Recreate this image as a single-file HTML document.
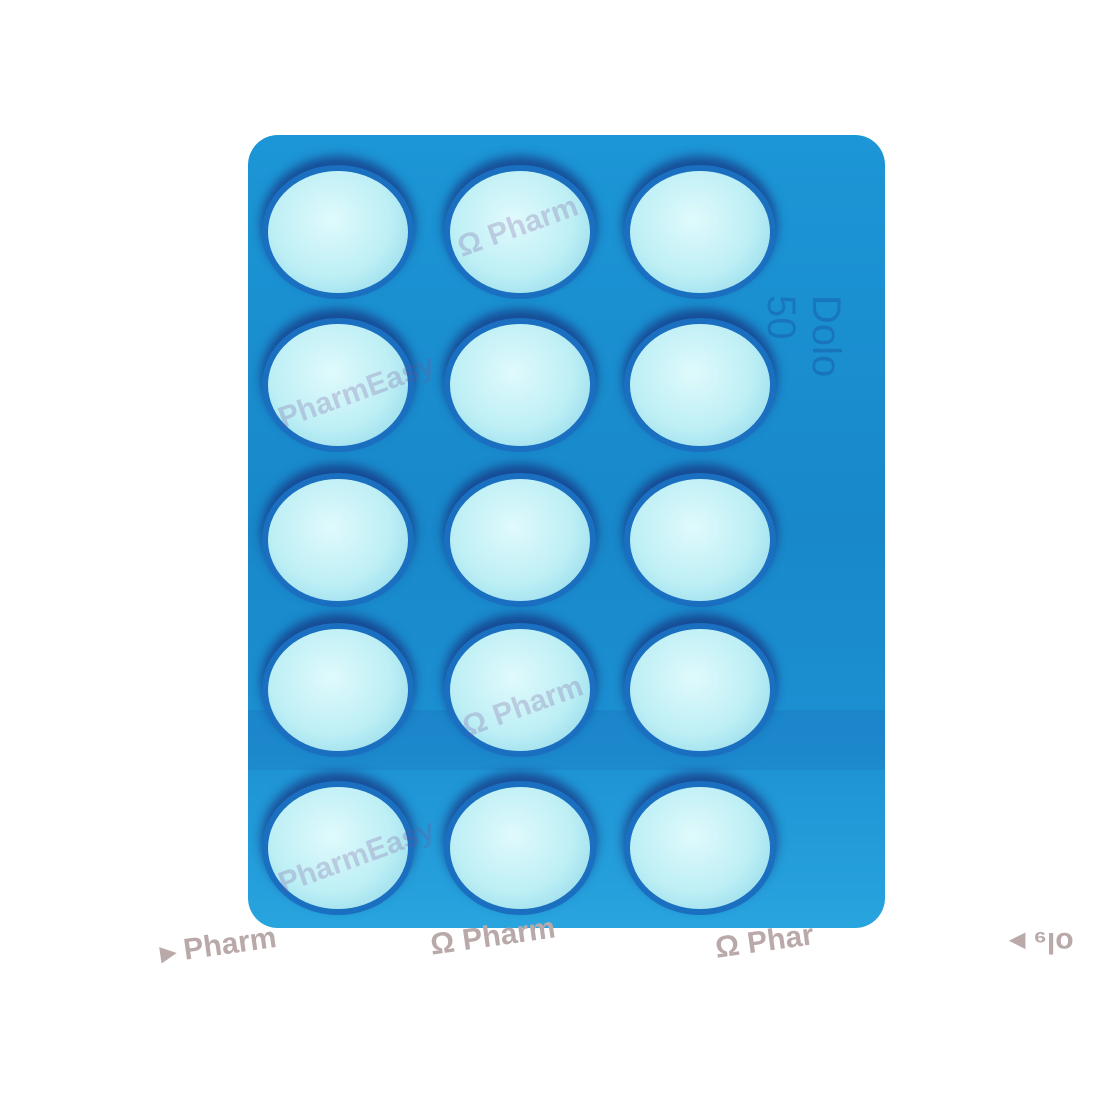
<!DOCTYPE html>
<html><head><meta charset="utf-8"><style>
html,body{margin:0;padding:0;background:#fff;width:1100px;height:1100px;overflow:hidden;font-family:"Liberation Sans",sans-serif;}
#pack{position:absolute;left:248px;top:135px;width:637px;height:793px;border-radius:30px;
background:linear-gradient(180deg,#1c96d6 0%,#1888ca 50%,#1c90d2 75%,#28a4de 100%);overflow:hidden;}
#pack:before{content:"";position:absolute;left:0;top:575px;width:100%;height:60px;background:rgba(30,80,170,0.15);}
.pill{position:absolute;width:140px;height:122px;border-radius:50%;
background:radial-gradient(ellipse at 45% 40%,#e0fafc 0%,#bdeff5 55%,#98dcec 85%,#62bfe3 100%);
box-shadow:0 0 0 6px #1a6fc0,0 -8px 10px 7px rgba(20,30,110,0.6);}
.wm{position:absolute;color:rgba(120,80,150,0.25);font-weight:bold;font-size:30px;white-space:nowrap;}
.bt{position:absolute;color:#b9a9a9;font-weight:bold;font-size:30px;white-space:nowrap;}
.side{position:absolute;color:rgba(20,60,140,0.3);font-size:40px;transform:rotate(90deg);transform-origin:left top;}
</style></head><body>
<div id="pack">
<div class="side" style="left:600px;top:160px">Dolo 50</div>
</div>
<div id="pills"></div>
<div class="wm" style="left:455px;top:210px;transform:rotate(-20deg)">Ω Pharm</div>
<div class="wm" style="left:275px;top:375px;transform:rotate(-20deg)">PharmEasy</div>
<div class="wm" style="left:460px;top:690px;transform:rotate(-20deg)">Ω Pharm</div>
<div class="wm" style="left:275px;top:840px;transform:rotate(-20deg)">PharmEasy</div>
<div class="bt" style="left:160px;top:928px;transform:rotate(-8deg)">▸ Pharm</div>
<div class="bt" style="left:430px;top:920px;transform:rotate(-8deg)">Ω Pharm</div>
<div class="bt" style="left:715px;top:925px;transform:rotate(-8deg)">Ω Phar</div>
<div class="bt" style="left:1010px;top:925px;transform:rotate(180deg)">ol₉ ▸</div>
<script>
var colX=[338,520,700];
var rowY=[232,385,540,690,848];
var c=document.getElementById('pills');
rowY.forEach(function(y){colX.forEach(function(x){
var p=document.createElement('div');p.className='pill';


p.style.left=(x-70)+'px';p.style.top=(y-61)+'px';c.appendChild(p);});});
</script>
</body></html>
